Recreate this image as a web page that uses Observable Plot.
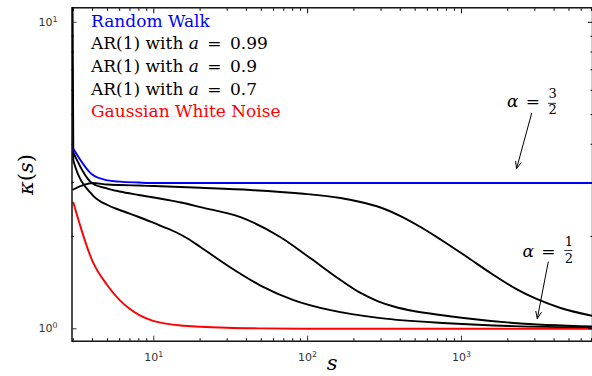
<!DOCTYPE html>
<html><head><meta charset="utf-8">
<script src="https://cdn.jsdelivr.net/npm/d3@7"></script>
<script src="https://cdn.jsdelivr.net/npm/@observablehq/plot@0.6"></script>
<style>html,body{margin:0;padding:0;background:#fff;} svg{display:block}</style>
</head><body><div id="chart"></div>
<script>
// ---- data (s, kappa) ----
const sRandomWalk = [3, 4, 5, 6, 8, 10, 20, 100, 1000, 7200];
const kRandomWalk = [3.87, 3.18, 3.05, 3.02, 3.0, 2.99, 2.99, 2.99, 2.99, 2.99];

const sAR099 = [3, 4, 5, 6, 8, 10, 20.1, 42.55, 89.9, 163.7, 220.8, 297.9, 401.8, 542.1, 731.3, 1063, 1546, 2248, 3078, 4409, 7200];
const kAR099 = [2.847, 2.989, 2.955, 2.944, 2.933, 2.922, 2.884, 2.837, 2.763, 2.671, 2.592, 2.487, 2.333, 2.148, 1.956, 1.728, 1.521, 1.353, 1.251, 1.169, 1.101];

const sAR09 = [3, 4, 5, 6, 8, 10, 15, 20.1, 36.6, 66.7, 104.4, 163.7, 220.8, 284.7, 372.8, 488.2, 731.3, 1032, 2182, 7200];
const kAR09 = [3.758, 2.978, 2.868, 2.804, 2.732, 2.681, 2.582, 2.493, 2.312, 1.99, 1.699, 1.443, 1.309, 1.232, 1.178, 1.143, 1.109, 1.085, 1.045, 1.017];

const sAR07 = [2.96, 3, 4, 5, 6, 8, 10, 13.84, 16.81, 20.1, 31.5, 49.4, 80.98, 140.9, 297.9, 812.1, 2182, 7200];
const kAR07 = [14, 3.54, 2.732, 2.534, 2.441, 2.316, 2.214, 2.069, 1.963, 1.848, 1.585, 1.384, 1.241, 1.15, 1.083, 1.043, 1.02, 1.01];

const sNoise = [3, 4, 5, 6, 7, 8, 10, 12, 15, 20, 30, 50, 100, 1000, 7200];
const kNoise = [2.58, 1.66, 1.385, 1.24, 1.16, 1.11, 1.06, 1.04, 1.025, 1.016, 1.008, 1.003, 1.0, 1.0, 1.0];

const legendLabels = ["Random Walk", "AR(1) with a = 0.99", "AR(1) with a = 0.9", "AR(1) with a = 0.7", "Gaussian White Noise"];
const legendColors = ["blue", "black", "black", "black", "red"];

const xMajorTicks = [10, 100, 1000];
const xMinorTicks = [3, 4, 5, 6, 7, 8, 9, 20, 30, 40, 50, 60, 70, 80, 90, 200, 300, 400, 500, 600, 700, 800, 900, 2000, 3000, 4000, 5000, 6000, 7000];
const yMajorTicks = [1, 10];
const yMinorTicks = [2, 3, 4, 5, 6, 7, 8, 9];

// annotations (data coordinates)
const annotLabels = ["α =", "α ="];
const annotLabelS = [3245, 4093];
const annotLabelK = [5.52, 1.79];
const annotNum = ["3", "1"];
const annotDen = ["2", "2"];
const annotFracS = [3909, 4990];
const annotNumK = [5.84, 1.916];
const annotDenK = [5.18, 1.69];
const annotBarK = [5.44, 1.80];
const annotBarS1 = [3681, 4700];
const annotBarS2 = [4150, 5300];
const arrowS1 = [2857, 3664];
const arrowK1 = [5.04, 1.65];
const arrowS2 = [2281, 3112];
const arrowK2 = [3.33, 1.08];

// ---- build tables ----
const rows = (S, K) => S.map((s, i) => ({s, k: K[i]}));
const series = [
  {data: rows(sAR099, kAR099), color: "black"},
  {data: rows(sAR09, kAR09), color: "black"},
  {data: rows(sAR07, kAR07), color: "black"},
  {data: rows(sRandomWalk, kRandomWalk), color: "blue"},
  {data: rows(sNoise, kNoise), color: "red"}
];
const annot = annotLabels.map((label, i) => ({
  label, s: annotLabelS[i], k: annotLabelK[i], num: annotNum[i], den: annotDen[i],
  fs: annotFracS[i], nk: annotNumK[i], dk: annotDenK[i], bk: annotBarK[i],
  b1: annotBarS1[i], b2: annotBarS2[i],
  x1: arrowS1[i], y1: arrowK1[i], x2: arrowS2[i], y2: arrowK2[i]
}));

const serif = "DejaVu Serif";
const sans = "DejaVu Sans";
const expFmt = d => `10^${Math.round(Math.log10(d))}`;
const blank = () => "";

const plot = Plot.plot({
  width: 592,
  height: 376,
  marginLeft: 71.5,
  marginRight: 0,
  marginTop: 7.3,
  marginBottom: 35.3,
  style: {background: "#fff", fontFamily: sans},
  x: {type: "log", domain: [2.94, 7110]},
  y: {type: "log", domain: [0.911, 11.15]},
  marks: [
    ...series.map(d => Plot.line(d.data, {x: "s", y: "k", stroke: d.color, strokeWidth: 1.9, clip: true, curve: "monotone-x"})),
    Plot.frame({stroke: "black", strokeWidth: 1.4}),
    Plot.axisX(xMajorTicks, {anchor: "bottom", tickSize: -5, tickPadding: 17, tickFormat: expFmt, label: null, fontSize: 11, color: "#333"}),
    Plot.axisX(xMinorTicks, {anchor: "bottom", tickSize: -2.5, tickFormat: blank, label: null}),
    Plot.axisX(xMajorTicks, {anchor: "top", tickSize: -5, tickFormat: blank, label: null}),
    Plot.axisX(xMinorTicks, {anchor: "top", tickSize: -2.5, tickFormat: blank, label: null}),
    Plot.axisY(yMajorTicks, {anchor: "left", tickSize: -5, tickPadding: 19.5, tickFormat: expFmt, label: null, fontSize: 11, color: "#333"}),
    Plot.axisY(yMinorTicks, {anchor: "left", tickSize: -2.5, tickFormat: blank, label: null}),
    Plot.axisY(yMajorTicks, {anchor: "right", tickSize: -5, tickFormat: blank, label: null}),
    Plot.axisY(yMinorTicks, {anchor: "right", tickSize: -2.5, tickFormat: blank, label: null}),
    // legend
    ...legendLabels.map((label, i) => Plot.text([label], {
      frameAnchor: "top-left", dx: 19, dy: 18.8 + 22.7 * i, lineAnchor: "bottom", textAnchor: "start",
      fill: legendColors[i], fontSize: 17, fontFamily: serif
    })),
    // axis titles
    Plot.text(["κ(s)"], {frameAnchor: "left", dx: -46, rotate: -90, textAnchor: "middle", fontSize: 21, fontFamily: serif, fill: "black"}),
    Plot.text(["s"], {frameAnchor: "bottom", dy: 28.5, lineAnchor: "bottom", textAnchor: "middle", fontSize: 21, fontFamily: serif, fontStyle: "italic", fill: "black"}),
    // annotations
    Plot.text(annot, {x: "s", y: "k", text: "label", textAnchor: "end", fontSize: 17, fontFamily: serif, fill: "black"}),
    Plot.text(annot, {x: "fs", y: "nk", text: "num", fontSize: 13, fontFamily: serif, fill: "black"}),
    Plot.text(annot, {x: "fs", y: "dk", text: "den", fontSize: 13, fontFamily: serif, fill: "black"}),
    Plot.ruleY(annot, {y: "bk", x1: "b1", x2: "b2", stroke: "black", strokeWidth: 0.8}),
    Plot.arrow(annot, {x1: "x1", y1: "y1", x2: "x2", y2: "y2", stroke: "black", strokeWidth: 1, headLength: 11, headAngle: 45})
  ]
});

// rich text: superscripts and italic math
const svg = d3.select(plot);
svg.selectAll("text").each(function() {
  const el = d3.select(this);
  const t = this.textContent;
  if (/^10\^\d$/.test(t)) {
    const [base, exp] = t.split("^");
    el.text(null);
    el.append("tspan").text(base);
    el.append("tspan").attr("dy", "-0.5em").attr("font-size", "0.72em").text(exp);
  } else if (t.includes(" with a = ")) {
    const [pre, post] = t.split(" a = ");
    el.text(null);
    el.append("tspan").text(pre + " ");
    el.append("tspan").attr("font-style", "italic").text("a");
    el.append("tspan").attr("dx", 3).text(" =");
    el.append("tspan").attr("dx", 3).text(" " + post);
  } else if (t === "κ(s)") {
    el.text(null);
    el.append("tspan").attr("font-style", "italic").text("κ");
    el.append("tspan").text("(");
    el.append("tspan").attr("font-style", "italic").text("s");
    el.append("tspan").text(")");
  } else if (t === "α =") {
    el.text(null);
    el.append("tspan").attr("font-style", "italic").text("α");
    el.append("tspan").attr("dx", 2).text(" =");
  }
});
document.getElementById("chart").appendChild(plot);
</script>
</body></html>
